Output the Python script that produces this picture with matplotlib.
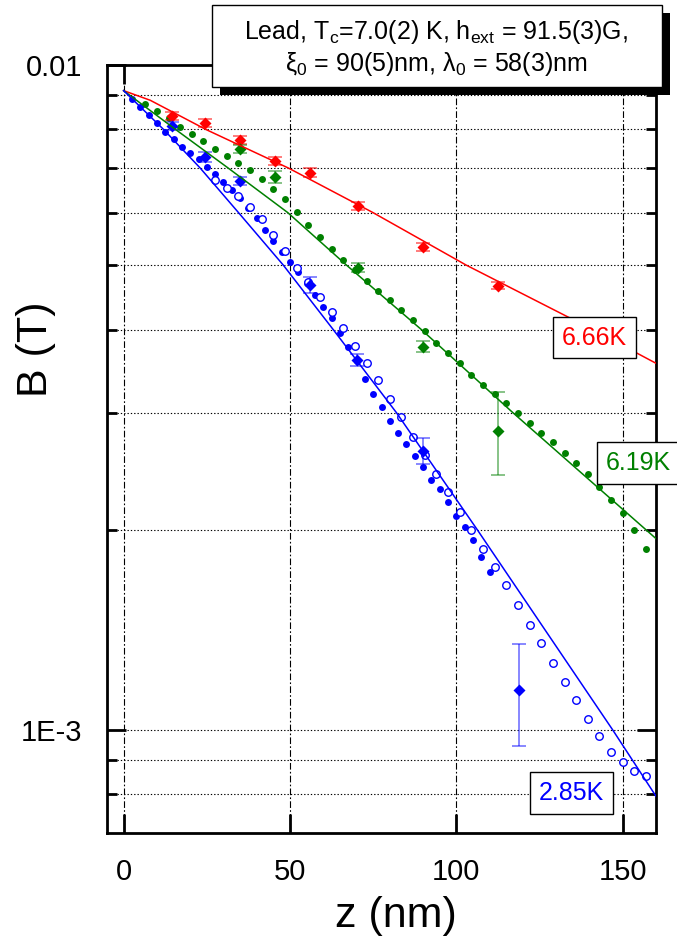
import matplotlib
matplotlib.use('Agg')
import matplotlib.pyplot as plt
from matplotlib.patches import Rectangle
from matplotlib.ticker import FixedLocator, FixedFormatter, NullFormatter

plt.rcParams['font.family'] = ['Liberation Sans', 'DejaVu Sans']
plt.rcParams['mathtext.fontset'] = 'custom'
plt.rcParams['mathtext.rm'] = 'Liberation Sans'
plt.rcParams['mathtext.it'] = 'Liberation Sans:italic'

RED = '#ff0000'
GREEN = '#008000'
BLUE = '#0000ff'

# 6.66 K : diamonds with error bars
z_red = [14.5, 24.5, 35.0, 45.5, 56.0, 70.3, 90.0, 112.5]
B_red = [0.00838, 0.00819, 0.00771, 0.00718, 0.00689, 0.00614, 0.00532, 0.00466]
err_red = [0.00012, 0.00011, 0.00011, 0.00010, 0.00010, 0.00009, 0.00007, 0.00006]

# 6.19 K : filled circles + diamonds with error bars
z_green = [6.5, 10.0, 13.5, 17.0, 20.5, 24.0, 27.5, 31.0, 34.5, 38.0, 41.5, 45.0,
           48.5, 52.0, 55.5, 59.0, 62.5, 66.0, 69.5, 73.0, 76.5, 80.0, 83.5, 87.0,
           90.5, 94.0, 97.5, 101.0, 104.5, 108.0, 111.5, 115.0, 118.5, 122.0,
           125.5, 129.0, 132.5, 136.0, 139.5, 143.0, 146.5, 150.0, 153.5, 157.0]
B_green = [0.00874, 0.00853, 0.00831, 0.00808, 0.00788, 0.00769, 0.00748, 0.00730,
           0.00713, 0.00695, 0.00674, 0.00652, 0.00629, 0.00602, 0.00575, 0.00551,
           0.00529, 0.00509, 0.00491, 0.00474, 0.00458, 0.00443, 0.00428, 0.00413,
           0.00398, 0.00382, 0.00369, 0.00356, 0.00342, 0.00330, 0.00320, 0.00310,
           0.00300, 0.00290, 0.00280, 0.00271, 0.00261, 0.00252, 0.00243, 0.00232,
           0.00222, 0.00212, 0.00200, 0.00187]
z_green_d = [35.0, 45.5, 70.3, 90.0, 112.5]
B_green_d = [0.00747, 0.00679, 0.00496, 0.00377, 0.00282]
err_green_d = [0.00010, 0.00014, 0.00007, 0.00007, 0.00040]

# 2.85 K : filled circles, open circles + diamonds with error bars
z_blue = [2.5, 5.0, 7.5, 10.0, 12.5, 15.0, 17.5, 20.0, 22.5, 25.0, 27.5, 30.0,
          32.5, 35.0, 37.5, 40.0, 42.5, 45.0, 47.5, 50.0, 52.5, 55.0, 57.5, 60.0,
          62.5, 65.0, 67.5, 70.0, 72.5, 75.0, 77.5, 80.0, 82.5, 85.0, 87.5, 90.0,
          92.5, 95.0, 97.5, 100.0, 102.5, 105.0, 107.5, 110.0]
B_blue = [0.00888, 0.00864, 0.00840, 0.00817, 0.00794, 0.00774, 0.00754, 0.00738,
          0.00721, 0.00702, 0.00686, 0.00668, 0.00649, 0.00630, 0.00609, 0.00588,
          0.00565, 0.00544, 0.00524, 0.00506, 0.00488, 0.00470, 0.00451, 0.00433,
          0.00416, 0.00396, 0.00377, 0.00359, 0.00337, 0.00320, 0.00306, 0.00292,
          0.00280, 0.00269, 0.00258, 0.00249, 0.00238, 0.00230, 0.00220, 0.00210,
          0.00202, 0.00193, 0.00182, 0.00173]
z_blue_o = [27.5, 31.0, 34.5, 38.0, 41.5, 45.0, 48.5, 52.0, 55.5, 59.0, 62.5, 66.0,
            69.5, 73.0, 76.5, 80.0, 83.5, 87.0, 90.5, 94.0, 97.5, 101.0, 104.5,
            108.0, 111.5, 115.0, 118.5, 122.0, 125.5, 129.0, 132.5, 136.0, 139.5,
            143.0, 146.5, 150.0, 153.5, 157.0]
B_blue_o = [0.00672, 0.00654, 0.00635, 0.00612, 0.00586, 0.00555, 0.00526, 0.00496,
            0.00472, 0.00448, 0.00425, 0.00402, 0.00378, 0.00356, 0.00336, 0.00315,
            0.00296, 0.00276, 0.00259, 0.00243, 0.00228, 0.00213, 0.00200, 0.00187,
            0.00176, 0.00165, 0.00154, 0.00144, 0.00135, 0.00126, 0.00118, 0.00111,
            0.00104, 0.000979, 0.000928, 0.000895, 0.000869, 0.000852]
z_blue_d = [14.5, 24.5, 35.0, 56.0, 70.2, 90.0, 118.8]
B_blue_d = [0.00810, 0.00728, 0.00669, 0.00467, 0.00360, 0.00263, 0.001147]
err_blue_d = [0.00011, 0.00013, 0.00009, 0.00013, 0.00007, 0.00012, 0.00020]

# model curves, read where they cross the grid lines
z_fit_red = [0, 8, 24.7, 49.5, 74.9, 103.0, 141.0, 160]
B_fit_red = [0.00915, 0.00885, 0.008, 0.007, 0.006, 0.005, 0.004, 0.00356]
z_fit_green = [0, 15.6, 31.4, 49.3, 67.0, 89.5, 117.0, 157.0, 160]
B_fit_green = [0.00915, 0.008, 0.007, 0.006, 0.005, 0.004, 0.003, 0.002, 0.00194]
z_fit_blue = [0, 12.0, 23.0, 34.5, 48.0, 63.0, 82.0, 106.3, 147.0, 160]
B_fit_blue = [0.00915, 0.008, 0.007, 0.006, 0.005, 0.004, 0.003, 0.002, 0.001, 0.000795]

x_ticks = [0, 50, 100, 150]
y_major = [1e-3, 1e-2]
y_major_labels = ['1E-3', '0.01']
y_minor = [8e-4, 9e-4, 2e-3, 3e-3, 4e-3, 5e-3, 6e-3, 7e-3, 8e-3, 9e-3]

fig = plt.figure(figsize=(6.77, 9.43), dpi=100)
ax = fig.add_axes([107 / 677, 1 - 833 / 943, 549 / 677, 768 / 943])
ax.set_yscale('log')
ax.set_xlim(-5, 160)
ax.set_ylim(7.0e-4, 1e-2)

# grid
for x in x_ticks:
    ax.axvline(x, color='k', lw=0.8, ls=(0, (6, 2, 1.5, 2)), zorder=1)
for y in y_minor + [1e-3]:
    ax.axhline(y, color='k', lw=0.8, ls=(0, (1.2, 1.8)), zorder=1)

# data points
ax.plot(z_green, B_green, 'o', color=GREEN, ms=5.0, mec='none', zorder=3)
ax.plot(z_blue, B_blue, 'o', color=BLUE, ms=5.0, mec='none', zorder=3)
ax.plot(z_blue_o, B_blue_o, 'o', mfc='white', mec=BLUE, mew=1.0, ms=5.4, zorder=3)

ax.errorbar(z_red, B_red, yerr=err_red, fmt='D', color=RED, ms=5.8, mec='none',
            ecolor=(1, 0, 0, 0.6), elinewidth=1.2, capsize=5, capthick=1.2, zorder=4)
ax.errorbar(z_green_d, B_green_d, yerr=err_green_d, fmt='D', color=GREEN, ms=5.8, mec='none',
            ecolor=(0, 0.5, 0, 0.55), elinewidth=1.2, capsize=5, capthick=1.2, zorder=4)
ax.errorbar(z_blue_d, B_blue_d, yerr=err_blue_d, fmt='D', color=BLUE, ms=5.8, mec='none',
            ecolor=(0, 0, 1, 0.55), elinewidth=1.2, capsize=5, capthick=1.2, zorder=4)

# fits
ax.plot(z_fit_red, B_fit_red, '-', color=RED, lw=1.1, zorder=5)
ax.plot(z_fit_green, B_fit_green, '-', color=GREEN, lw=1.1, zorder=5)
ax.plot(z_fit_blue, B_fit_blue, '-', color=BLUE, lw=1.1, zorder=5)

# axes styling
for sp in ax.spines.values():
    sp.set_linewidth(2)
ax.xaxis.set_major_locator(FixedLocator(x_ticks))
ax.yaxis.set_major_locator(FixedLocator(y_major))
ax.yaxis.set_major_formatter(FixedFormatter(y_major_labels))
ax.yaxis.set_minor_locator(FixedLocator(y_minor))
ax.yaxis.set_minor_formatter(NullFormatter())
ax.xaxis.set_minor_locator(FixedLocator([]))
ax.tick_params(which='major', direction='in', length=14, width=2,
               top=True, right=True, labelsize=21, pad=18)
ax.tick_params(which='minor', direction='in', length=7, width=2,
               left=True, right=True)

ax.set_xlabel('z (nm)', fontsize=31)
ax.xaxis.set_label_coords(0.526, -0.082)
ax.set_ylabel('B (T)', fontsize=31)
ax.yaxis.set_label_coords(-0.093, 0.63)

# temperature tags
box = dict(boxstyle='square,pad=0.35', fc='white', ec='black', lw=1.0)
ax.text(0.888, 0.645, '6.66K', color=RED, fontsize=18, ha='center', va='center',
        transform=ax.transAxes, bbox=box, zorder=10)
ax.text(0.968, 0.482, '6.19K', color=GREEN, fontsize=18, ha='center', va='center',
        transform=ax.transAxes, bbox=box, zorder=10, clip_on=False)
ax.text(0.846, 0.052, '2.85K', color=BLUE, fontsize=18, ha='center', va='center',
        transform=ax.transAxes, bbox=box, zorder=10)

# header box with shadow
fig.patches.append(Rectangle((219.7 / 677, 1 - 95 / 943), 450 / 677, 82 / 943,
                             transform=fig.transFigure, fc='black', ec='none', zorder=20))
fig.patches.append(Rectangle((211.7 / 677, 1 - 87 / 943), 450 / 677, 82 / 943,
                             transform=fig.transFigure, fc='white', ec='black', lw=1.0,
                             zorder=21))
fig.text(436 / 677, 1 - 39.5 / 943,
         r'Lead, T$_\mathrm{c}$=7.0(2) K, h$_\mathrm{ext}$ = 91.5(3)G,',
         fontsize=18, ha='center', va='baseline', zorder=22)
fig.text(436 / 677, 1 - 71 / 943,
         r'ξ$_\mathrm{0}$ = 90(5)nm, λ$_\mathrm{0}$ = 58(3)nm',
         fontsize=18, ha='center', va='baseline', zorder=22)

fig.savefig('out.png', dpi=100)
